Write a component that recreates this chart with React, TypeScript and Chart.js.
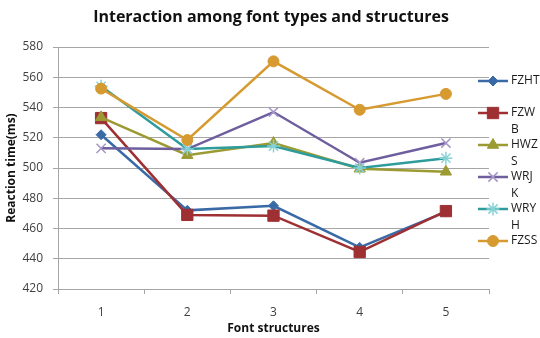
import React, { useEffect, useRef } from 'react';
import { Chart, registerables } from 'chart.js';
import { drawPoint } from 'chart.js/helpers';

Chart.register(...registerables);

// ---- data ----
const categories = ['1', '2', '3', '4', '5'];
const seriesNames = ['FZHT', 'FZWB', 'HWZS', 'WRJK', 'WRYH', 'FZSS'];
// legend labels as they wrap in the narrow legend column
const legendLines = [['FZHT'], ['FZW', 'B'], ['HWZ', 'S'], ['WRJ', 'K'], ['WRY', 'H'], ['FZSS']];
const fzht = [522, 472, 475, 447.5, 471];
const fzwb = [533, 469, 468.5, 444.5, 471.5];
const hwzs = [533.5, 508.5, 516.5, 499.5, 497.5];
const wrjk = [513, 512.5, 537, 503.5, 516.5];
const wryh = [554, 512.5, 514.5, 500, 506.5];
const fzss = [552.5, 518.5, 570.5, 538.5, 549];
const yMin = 420;
const yMax = 580;
const yStep = 20;
const chartTitle = 'Interaction among font types and structures';
const xTitle = 'Font structures';
const yTitle = 'Reaction time(ms)';

const seriesValues = [fzht, fzwb, hwzs, wrjk, wryh, fzss];

// ---- styles ----
const FONT = '"Open Sans", sans-serif';
const styles = [
  { line: '#3A6AA6', point: '#3A6AA6', style: 'rectRot', radius: 5 },
  { line: '#9E3033', point: '#9E3033', style: 'rect', radius: 8 },
  { line: '#9C9A33', point: '#9C9A33', style: 'triangle', radius: 6.5 },
  { line: '#6E5E9E', point: '#A696C8', style: 'crossRot', radius: 6.5 },
  { line: '#2E9C9D', point: '#86D3D6', style: 'star', radius: 6.5 },
  { line: '#D69A31', point: '#D69A31', style: 'circle', radius: 5.5 },
];

const decorPlugin = {
  id: 'decor',
  afterDraw(chart: any) {
    const ctx = chart.ctx as CanvasRenderingContext2D;
    ctx.save();
    // title
    ctx.fillStyle = '#111111';
    ctx.font = `bold 16px ${FONT}`;
    ctx.textAlign = 'center';
    ctx.textBaseline = 'middle';
    ctx.fillText(chartTitle, chart.width / 2 + 1, 17);

    // legend
    const x0 = chart.chartArea.right - 11;
    const x1 = x0 + 30;
    const tx = x1 + 3;
    const top = 81;
    const gap = 32;
    ctx.font = `12px ${FONT}`;
    ctx.textAlign = 'left';
    chart.data.datasets.forEach((ds: any, i: number) => {
      const y = top + i * gap;
      ctx.strokeStyle = ds.borderColor;
      ctx.lineWidth = 2.5;
      ctx.beginPath();
      ctx.moveTo(x0, y);
      ctx.lineTo(x1, y);
      ctx.stroke();
      ctx.fillStyle = ds.pointBackgroundColor;
      ctx.strokeStyle = ds.pointBorderColor;
      ctx.lineWidth = ds.pointBorderWidth;
      drawPoint(
        ctx,
        { pointStyle: ds.pointStyle, rotation: 0, radius: ds.pointRadius, borderWidth: ds.pointBorderWidth },
        (x0 + x1) / 2,
        y
      );
      const lines = legendLines[i] || [String(ds.label)];
      ctx.fillStyle = '#1a1a1a';
      lines.forEach((ln, k) => ctx.fillText(ln, tx, y + k * 17));
    });
    ctx.restore();
  },
};

export default function App() {
  const ref = useRef<HTMLCanvasElement | null>(null);
  useEffect(() => {
    if (!ref.current) return;
    const n = seriesNames.length;
    const chart = new Chart(ref.current, {
      type: 'line',
      data: {
        labels: categories,
        datasets: seriesNames.map((name, i) => ({
          label: name,
          data: seriesValues[i],
          borderColor: styles[i].line,
          backgroundColor: styles[i].line,
          borderWidth: 2.5,
          pointStyle: styles[i].style as any,
          pointRadius: styles[i].radius,
          pointBackgroundColor: styles[i].point,
          pointBorderColor: styles[i].point,
          pointBorderWidth: styles[i].style === 'crossRot' || styles[i].style === 'star' ? 1.5 : 1,
          tension: 0,
          order: n - i,
        })),
      },
      options: {
        responsive: false,
        animation: false,
        layout: { padding: { top: 47, right: 51, left: 0, bottom: 0 } },
        plugins: {
          legend: { display: false },
          title: { display: false },
          tooltip: { enabled: false },
        },
        scales: {
          x: {
            type: 'category',
            offset: true,
            grid: {
              offset: true,
              drawOnChartArea: false,
              drawTicks: true,
              tickLength: 5,
              color: '#a6a6a6',
              lineWidth: 1,
            },
            border: { display: true, color: '#a6a6a6', width: 1 },
            ticks: { color: '#404040', font: { family: FONT, size: 12 }, padding: 11 },
            title: {
              display: true,
              text: xTitle,
              color: '#111111',
              font: { family: FONT, size: 12, weight: 'bold' },
              padding: { top: 0, bottom: 2 },
            },
            afterFit: (s: any) => {
              s.height = 49;
            },
          },
          y: {
            min: yMin,
            max: yMax,
            ticks: { stepSize: yStep, color: '#404040', font: { family: FONT, size: 12 }, padding: 10 },
            grid: { color: '#a6a6a6', tickLength: 5, lineWidth: 1 },
            border: { display: true, color: '#a6a6a6', width: 1 },
            title: {
              display: true,
              text: yTitle,
              color: '#111111',
              font: { family: FONT, size: 12, weight: 'bold' },
              padding: { top: 4, bottom: 0 },
            },
            afterFit: (s: any) => {
              s.width = 58;
            },
          },
        },
      },
      plugins: [decorPlugin],
    });
    return () => chart.destroy();
  }, []);
  return (
    <div style={{ position: 'absolute', left: 0, top: 0, width: 540, height: 338, background: '#ffffff' }}>
      <canvas ref={ref} width={540} height={338} style={{ display: 'block' }} />
    </div>
  );
}
